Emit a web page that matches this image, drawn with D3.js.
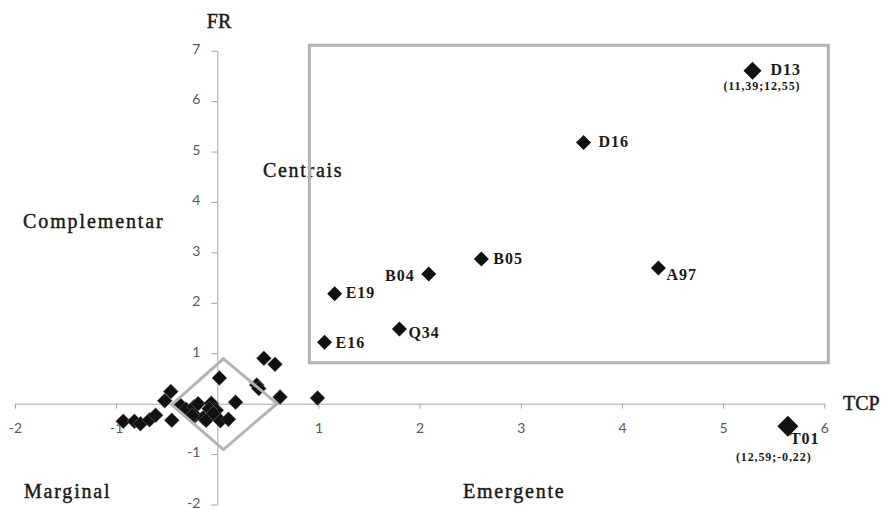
<!DOCTYPE html>
<html>
<head>
<meta charset="utf-8">
<script src="https://cdn.jsdelivr.net/npm/d3@7"></script>
<style>
  body { margin: 0; background: #fff; }
  svg { display: block; }
  .tick text { font-family: Lato, "Open Sans", sans-serif; font-size: 14px; fill: #595959; }
  .axis path, .axis line { stroke: #a6a6a6; stroke-width: 1; }
  .serif { font-family: "Liberation Serif", "DejaVu Serif", serif; fill: #1a1a1a; }
  .heavy { stroke: #1a1a1a; stroke-width: 0.45px; }
</style>
</head>
<body>
<div id="chart"></div>
<script>
const W = 885, H = 510

const xTicks = [-2, -1, 0, 1, 2, 3, 4, 5, 6]
const yTicks = [-2, -1, 0, 1, 2, 3, 4, 5, 6, 7]

// named codes (TCP, FR)
const codes = ['D13', 'D16', 'B05', 'B04', 'A97', 'E19', 'Q34', 'E16', 'T01']
const codeTcp = [5.29, 3.62, 2.61, 2.09, 4.36, 1.16, 1.80, 1.06, 5.64]
const codeFr = [6.60, 5.18, 2.87, 2.57, 2.69, 2.18, 1.48, 1.22, -0.45]
// real values of the points drawn off scale
const realValues = { D13: '(11,39;12,55)', T01: '(12,59;-0,22)' }

// unnamed codes around the origin
const clusterTcp = [-0.93, -0.82, -0.76, -0.67, -0.61, -0.46, -0.52, -0.45, -0.37, -0.31,
  -0.23, -0.22, -0.19, -0.14, -0.11, -0.06, -0.01, 0.02, 0.03, 0.11,
  0.18, 0.39, 0.41, 0.46, 0.57, 0.62, 0.99, -0.25, -0.08, -0.04]
const clusterFr = [-0.35, -0.35, -0.40, -0.32, -0.23, 0.24, 0.06, -0.33, -0.02, -0.11,
  -0.06, -0.24, 0.00, -0.28, -0.33, 0.01, -0.13, 0.51, -0.34, -0.31,
  0.03, 0.37, 0.30, 0.90, 0.78, 0.13, 0.11, -0.24, -0.10, -0.19]

// highlight shapes, in data units
const centralBox = [[0.91, 7.11], [6.04, 7.11], [6.04, 0.81], [0.91, 0.81]]
const coreDiamond = [[0.06, 0.89], [0.59, 0.00], [0.06, -0.91], [-0.45, -0.02]]

const quadrants = ['Complementar', 'Centrais', 'Marginal', 'Emergente']

const svg = d3.select('#chart').append('svg').attr('width', W).attr('height', H)

const x = d3.scaleLinear().domain([-2, 6]).range([15, 824.3])
const y = d3.scaleLinear().domain([-2, 7]).range([504.5, 50.7])

const fmt = d => (d === 0 ? '' : String(d))

svg.append('g')
  .attr('class', 'axis')
  .attr('transform', `translate(0,${y(0)})`)
  .call(d3.axisBottom(x).tickValues(xTicks).tickSize(5).tickSizeOuter(0).tickPadding(14).tickFormat(fmt))

svg.append('g')
  .attr('class', 'axis')
  .attr('transform', `translate(${x(0)},0)`)
  .call(d3.axisLeft(y).tickValues(yTicks).tickSize(6).tickSizeOuter(0).tickPadding(11).tickFormat(fmt))
  .call(g => g.selectAll('.tick text').attr('dy', '0.2em'))

// axis titles
svg.append('text').attr('class', 'serif heavy')
  .attr('x', 219).attr('y', 28).attr('text-anchor', 'middle')
  .style('font-size', '20px').text('FR')
svg.append('text').attr('class', 'serif heavy')
  .attr('x', 843).attr('y', 410)
  .style('font-size', '20px').text('TCP')

// quadrant names
const quadPos = [[23, 228, 1.9], [263, 177, 1.7], [24, 498, 1.8], [463, 498, 1.8]]
quadrants.forEach((q, i) => {
  svg.append('text').attr('class', 'serif heavy')
    .attr('x', quadPos[i][0]).attr('y', quadPos[i][1])
    .style('font-size', '20px').style('letter-spacing', quadPos[i][2] + 'px')
    .text(q)
})

// markers
const diamond = (cx, cy, diag) => {
  const r = diag / 2
  return `M${cx},${cy - r}L${cx + r},${cy}L${cx},${cy + r}L${cx - r},${cy}Z`
}
const markerSize = { D13: 18, T01: 21 }

const cluster = clusterTcp.map((v, i) => ({ tcp: v, fr: clusterFr[i] }))
svg.append('g').selectAll('path')
  .data(cluster)
  .join('path')
  .attr('d', d => diamond(x(d.tcp), y(d.fr), 15))
  .attr('fill', '#111')
  .attr('stroke', '#777')
  .attr('stroke-width', 0.5)

const named = codes.map((c, i) => ({ code: c, tcp: codeTcp[i], fr: codeFr[i] }))
svg.append('g').selectAll('path')
  .data(named)
  .join('path')
  .attr('d', d => diamond(x(d.tcp), y(d.fr), markerSize[d.code] || 15))
  .attr('fill', '#111')

// label offsets from marker centre: [dx, dy, anchor]
const labelOffset = {
  D13: [18, 4, 'start'], D16: [15, 5, 'start'], B05: [12, 5, 'start'],
  B04: [-14, 7, 'end'], A97: [8, 12, 'start'], E19: [11, 4, 'start'],
  Q34: [9, 9, 'start'], E16: [11, 6, 'start'], T01: [2, 18, 'start']
}
const subOffset = { D13: [48, 19, 'end'], T01: [-52, 35, 'start'] }

svg.append('g').selectAll('text')
  .data(named)
  .join('text')
  .attr('class', 'serif')
  .attr('x', d => x(d.tcp) + labelOffset[d.code][0])
  .attr('y', d => y(d.fr) + labelOffset[d.code][1])
  .attr('text-anchor', d => labelOffset[d.code][2])
  .style('font-size', '16px').style('font-weight', 'bold').style('letter-spacing', '1px')
  .text(d => d.code)

svg.append('g').selectAll('text')
  .data(named.filter(d => realValues[d.code]))
  .join('text')
  .attr('class', 'serif')
  .attr('x', d => x(d.tcp) + subOffset[d.code][0])
  .attr('y', d => y(d.fr) + subOffset[d.code][1])
  .attr('text-anchor', d => subOffset[d.code][2])
  .style('font-size', '12px').style('font-weight', 'bold').style('letter-spacing', '0.9px')
  .text(d => realValues[d.code])

// highlight shapes on top
const line = d3.line().x(d => x(d[0])).y(d => y(d[1])).curve(d3.curveLinearClosed)
svg.append('path').attr('d', line(centralBox))
  .attr('fill', 'none').attr('stroke', '#b3b3b3').attr('stroke-width', 3)
svg.append('path').attr('d', line(coreDiamond))
  .attr('fill', 'none').attr('stroke', '#b3b3b3').attr('stroke-width', 3)
</script>
</body>
</html>
